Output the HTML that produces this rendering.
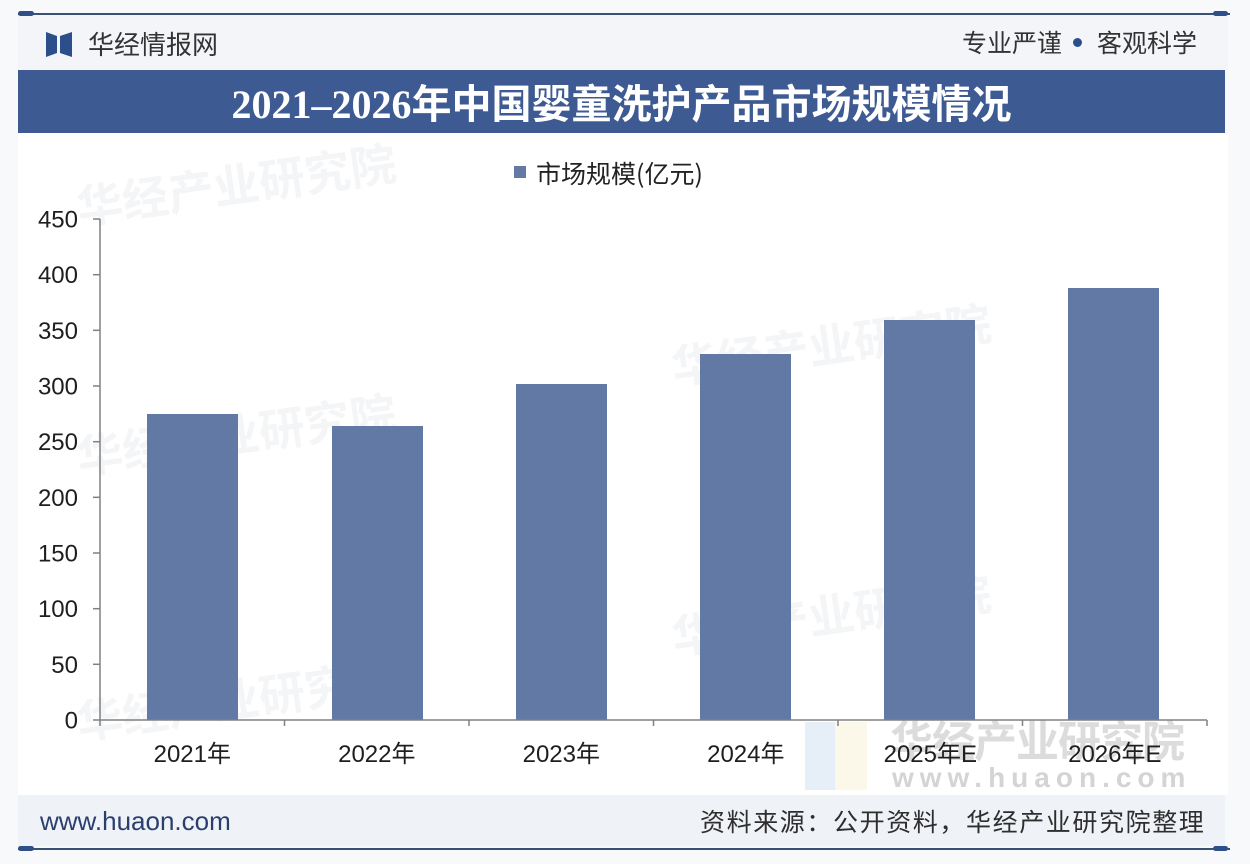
<!DOCTYPE html>
<html><head><meta charset="utf-8">
<style>
html,body{margin:0;padding:0;}
body{width:1250px;height:864px;position:relative;overflow:hidden;background:#f8f9fb;font-family:"Liberation Sans","Noto Sans CJK SC",sans-serif;}
.abs{position:absolute;}
</style></head>
<body>
<!-- main white panel -->
<div class="abs" style="left:18px;top:133px;width:1210px;height:662px;background:#ffffff;"></div>
<!-- header band -->
<div class="abs" style="left:18px;top:15px;width:1210px;height:55px;background:#f3f5f9;"></div>
<!-- top line -->
<div class="abs" style="left:18px;top:13px;width:1212px;height:2px;background:#3c4f75;"></div>
<div class="abs" style="left:18px;top:11px;width:16px;height:5px;border-radius:3px;background:#2f4f8a;"></div>
<div class="abs" style="left:1213px;top:11px;width:15px;height:5px;border-radius:3px;background:#2f4f8a;"></div>
<!-- logo -->
<svg class="abs" style="left:44px;top:30px" width="30" height="29" viewBox="0 0 30 29">
<polygon points="2,2 13,6 13,23 2,27" fill="#2c4f8c"/>
<polygon points="16,6 28,2 28,27 16,23" fill="#2c4f8c"/>
</svg>
<div class="abs" style="left:88px;top:28px;font-size:26px;line-height:32px;color:#333;font-family:'Noto Sans CJK SC',sans-serif;">华经情报网</div>
<div class="abs" style="left:962px;top:26px;font-size:25px;line-height:32px;color:#333;font-family:'Noto Sans CJK SC',sans-serif;">专业严谨</div>
<div class="abs" style="left:1073px;top:38px;width:9px;height:9px;border-radius:50%;background:#2c4f8c;"></div>
<div class="abs" style="left:1097px;top:26px;font-size:25px;line-height:32px;color:#333;font-family:'Noto Sans CJK SC',sans-serif;">客观科学</div>
<!-- title bar -->
<div class="abs" style="left:18px;top:70px;width:1207px;height:63px;background:#3e5a92;"></div>
<div class="abs" style="left:18px;top:70px;width:1207px;height:63px;line-height:63px;text-align:center;color:#fff;font-weight:bold;font-size:40px;font-family:'Liberation Serif','Noto Serif CJK SC','Noto Sans CJK SC',serif;">2021–2026<span style="font-family:'Noto Sans CJK SC',sans-serif;">年中国婴童洗护产品市场规模情况</span></div>

<!-- watermarks -->
<div class="abs" style="left:75px;top:150px;font-size:46px;font-weight:bold;color:#f4f5f7;transform:rotate(-8deg);font-family:'Noto Sans CJK SC',sans-serif;">华经产业研究院</div>
<div class="abs" style="left:75px;top:400px;font-size:46px;font-weight:bold;color:#f4f5f7;transform:rotate(-8deg);font-family:'Noto Sans CJK SC',sans-serif;">华经产业研究院</div>
<div class="abs" style="left:670px;top:310px;font-size:46px;font-weight:bold;color:#f4f5f7;transform:rotate(-8deg);font-family:'Noto Sans CJK SC',sans-serif;">华经产业研究院</div>
<div class="abs" style="left:670px;top:580px;font-size:46px;font-weight:bold;color:#f4f5f7;transform:rotate(-8deg);font-family:'Noto Sans CJK SC',sans-serif;">华经产业研究院</div>
<div class="abs" style="left:75px;top:665px;font-size:46px;font-weight:bold;color:#f4f5f7;transform:rotate(-8deg);font-family:'Noto Sans CJK SC',sans-serif;">华经产业研究院</div>
<!-- bottom-right watermark -->
<div class="abs" style="left:805px;top:722px;width:30px;height:68px;background:#e6eef8;"></div>
<div class="abs" style="left:835px;top:722px;width:32px;height:68px;background:#fbf7e9;"></div>
<div class="abs" style="left:890px;top:710px;font-size:43px;line-height:58px;font-weight:bold;color:#dcdcdc;font-family:'Noto Sans CJK SC',sans-serif;letter-spacing:-1px;">华经产业研究院</div>
<div class="abs" style="left:892px;top:763px;font-size:28px;line-height:30px;font-weight:bold;color:#d4d4d4;letter-spacing:6px;">www.huaon.com</div>

<!-- chart -->
<svg class="abs" style="left:0;top:0" width="1250" height="864" viewBox="0 0 1250 864">
<g fill="#6279a5">
<rect x="147" y="414" width="91" height="306"/>
<rect x="332" y="426" width="91" height="294"/>
<rect x="516" y="384" width="91" height="336"/>
<rect x="700" y="354" width="91" height="366"/>
<rect x="884" y="320" width="91" height="400"/>
<rect x="1068" y="288" width="91" height="432"/>
</g>
<g stroke="#808080" stroke-width="1.5" fill="none">
<line x1="100" y1="219" x2="100" y2="720"/>
<line x1="100" y1="720" x2="1207" y2="720"/>
<line x1="93" y1="219" x2="100" y2="219"/>
<line x1="93" y1="274.7" x2="100" y2="274.7"/>
<line x1="93" y1="330.3" x2="100" y2="330.3"/>
<line x1="93" y1="386" x2="100" y2="386"/>
<line x1="93" y1="441.7" x2="100" y2="441.7"/>
<line x1="93" y1="497.3" x2="100" y2="497.3"/>
<line x1="93" y1="553" x2="100" y2="553"/>
<line x1="93" y1="608.7" x2="100" y2="608.7"/>
<line x1="93" y1="664.3" x2="100" y2="664.3"/>
<line x1="93" y1="720" x2="100" y2="720"/>
<line x1="100" y1="720" x2="100" y2="726"/>
<line x1="284.5" y1="720" x2="284.5" y2="726"/>
<line x1="469" y1="720" x2="469" y2="726"/>
<line x1="653.5" y1="720" x2="653.5" y2="726"/>
<line x1="838" y1="720" x2="838" y2="726"/>
<line x1="1022.5" y1="720" x2="1022.5" y2="726"/>
<line x1="1207" y1="720" x2="1207" y2="726"/>
</g>
<g font-family="Liberation Sans, sans-serif" font-size="24" fill="#1e1e1e" text-anchor="end">
<text x="78" y="227.5">450</text>
<text x="78" y="283.2">400</text>
<text x="78" y="338.8">350</text>
<text x="78" y="394.5">300</text>
<text x="78" y="450.2">250</text>
<text x="78" y="505.8">200</text>
<text x="78" y="561.5">150</text>
<text x="78" y="617.2">100</text>
<text x="78" y="672.8">50</text>
<text x="78" y="728.5">0</text>
</g>
<g font-family="Liberation Sans, Noto Sans CJK SC, sans-serif" font-size="24" fill="#1e1e1e" text-anchor="middle">
<text x="192.3" y="762">2021年</text>
<text x="376.8" y="762">2022年</text>
<text x="561.3" y="762">2023年</text>
<text x="745.8" y="762">2024年</text>
<text x="930.3" y="762">2025年E</text>
<text x="1114.8" y="762">2026年E</text>
</g>
<rect x="514" y="166" width="12" height="12" fill="#6279a5"/>
<text x="536" y="183" font-family="Noto Sans CJK SC, sans-serif" font-size="25" fill="#222">市场规模(亿元)</text>
</svg>

<!-- footer band -->
<div class="abs" style="left:18px;top:795px;width:1207px;height:51px;background:#eff2f7;"></div>
<div class="abs" style="left:40px;top:805px;font-size:26px;line-height:32px;color:#2b3f6e;">www.huaon.com</div>
<div class="abs" style="left:700px;top:805px;font-size:25px;line-height:32px;letter-spacing:1.6px;color:#2e2e2e;font-family:'Noto Sans CJK SC',sans-serif;white-space:nowrap;">资料来源：公开资料，华经产业研究院整理</div>
<!-- bottom line -->
<div class="abs" style="left:18px;top:848px;width:1212px;height:2px;background:#3c4f75;"></div>
<div class="abs" style="left:18px;top:846px;width:16px;height:5px;border-radius:3px;background:#2f4f8a;"></div>
<div class="abs" style="left:1213px;top:846px;width:15px;height:5px;border-radius:3px;background:#2f4f8a;"></div>
</body></html>
